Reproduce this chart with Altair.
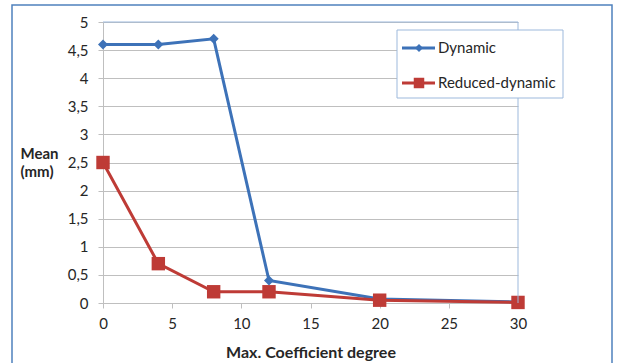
import altair as alt
import pandas as pd

# Mean error (mm) against the maximum coefficient degree, for both orbit models
degree = [0, 4, 8, 12, 20, 30]
dynamic = [4.6, 4.6, 4.7, 0.4, 0.07, 0.02]
reduced_dynamic = [2.5, 0.7, 0.2, 0.2, 0.05, 0.01]
series_names = ["Dynamic", "Reduced-dynamic"]

x_ticks = [0, 5, 10, 15, 20, 25, 30]
y_ticks = [0, 0.5, 1, 1.5, 2, 2.5, 3, 3.5, 4, 4.5, 5]

BLUE = "#3D72B8"
RED = "#BE3B36"
FRAME = "#4F81BD"
PLOT_EDGE = "#9DB9DC"
GRID = "#BFBFBF"
TEXT = "#262626"
FONT = "Lato"

W, H = 415, 281

df = pd.DataFrame({
    "degree": degree * 2,
    "mean": dynamic + reduced_dynamic,
    "series": [series_names[0]] * len(degree) + [series_names[1]] * len(degree),
})

x_enc = alt.X(
    "degree:Q",
    scale=alt.Scale(domain=[0, 30], nice=False, zero=False),
    axis=alt.Axis(
        values=x_ticks, grid=False, title="Max. Coefficient degree",
        domainColor=GRID, tickColor=GRID, tickSize=5, labelFlush=False,
        labelFont=FONT, labelFontSize=15, labelColor=TEXT, labelPadding=8,
        titleFont=FONT, titleFontSize=16, titleFontWeight="bold",
        titleColor=TEXT, titlePadding=13,
    ),
)
y_enc = alt.Y(
    "mean:Q",
    scale=alt.Scale(domain=[0, 5], nice=False),
    axis=alt.Axis(
        values=y_ticks, grid=True, gridColor=GRID, gridWidth=1,
        domainColor=GRID, tickColor=GRID, tickSize=5, labelFlush=False,
        labelExpr="replace(toString(datum.value), '.', ',')",
        labelFont=FONT, labelFontSize=15, labelColor=TEXT, labelPadding=10,
        title=["Mean", "(mm)"], titleAngle=0, titleAlign="left",
        titleBaseline="top", titleX=-83, titleY=124, titleLineHeight=18,
        titleFont=FONT, titleFontSize=15, titleFontWeight="bold", titleColor=TEXT,
    ),
)

base = alt.Chart(df).encode(x=x_enc, y=y_enc)


def series_layers(name, color, shape, size):
    sub = base.transform_filter(alt.datum.series == name)
    line = sub.mark_line(color=color, strokeWidth=3)
    pts = sub.mark_point(shape=shape, filled=True, opacity=1, color=color, size=size)
    return [line, pts]


one = alt.Data(values=[{"k": 0}])

# light blue top and right edges of the plot area
top_edge = alt.Chart(one).mark_rule(color=PLOT_EDGE, strokeWidth=1).encode(
    x=alt.value(0), x2=alt.value(W), y=alt.value(0)
)
right_edge = alt.Chart(one).mark_rule(color=PLOT_EDGE, strokeWidth=1).encode(
    x=alt.value(W), y=alt.value(0), y2=alt.value(H)
)

# outer chart frame
frame = alt.Chart(one).mark_rect(
    fill="transparent", stroke=FRAME, strokeWidth=1.5
).encode(x=alt.value(-91), x2=alt.value(509), y=alt.value(-17), y2=alt.value(352))

# legend box
legend_box = alt.Chart(one).mark_rect(
    fill="white", stroke=PLOT_EDGE, strokeWidth=1
).encode(x=alt.value(294), x2=alt.value(460), y=alt.value(8), y2=alt.value(76))


def legend_entry(name, color, shape, size, ypos):
    d = alt.Data(values=[{"series": name}])
    rule = alt.Chart(d).mark_rule(color=color, strokeWidth=3).encode(
        x=alt.value(299), x2=alt.value(332), y=alt.value(ypos)
    )
    sym = alt.Chart(d).mark_point(
        shape=shape, filled=True, opacity=1, color=color, size=size
    ).encode(x=alt.value(316), y=alt.value(ypos))
    txt = alt.Chart(d).mark_text(
        align="left", baseline="middle", font=FONT, fontSize=15, color=TEXT
    ).encode(x=alt.value(335), y=alt.value(ypos), text="series:N")
    return [rule, sym, txt]


layers = (
    series_layers(series_names[0], BLUE, "diamond", 100)
    + series_layers(series_names[1], RED, "square", 180)
    + [top_edge, right_edge, frame, legend_box]
    + legend_entry(series_names[0], BLUE, "diamond", 64, 26)
    + legend_entry(series_names[1], RED, "square", 110, 61)
)

chart = alt.layer(*layers).properties(
    width=W, height=H,
    padding={"left": 103, "top": 22, "right": 101, "bottom": 60},
    autosize=alt.AutoSizeParams(type="none"),
    background="white",
).configure_view(stroke=None)

chart.save("out.html", embed_options={"renderer": "svg", "actions": False})
